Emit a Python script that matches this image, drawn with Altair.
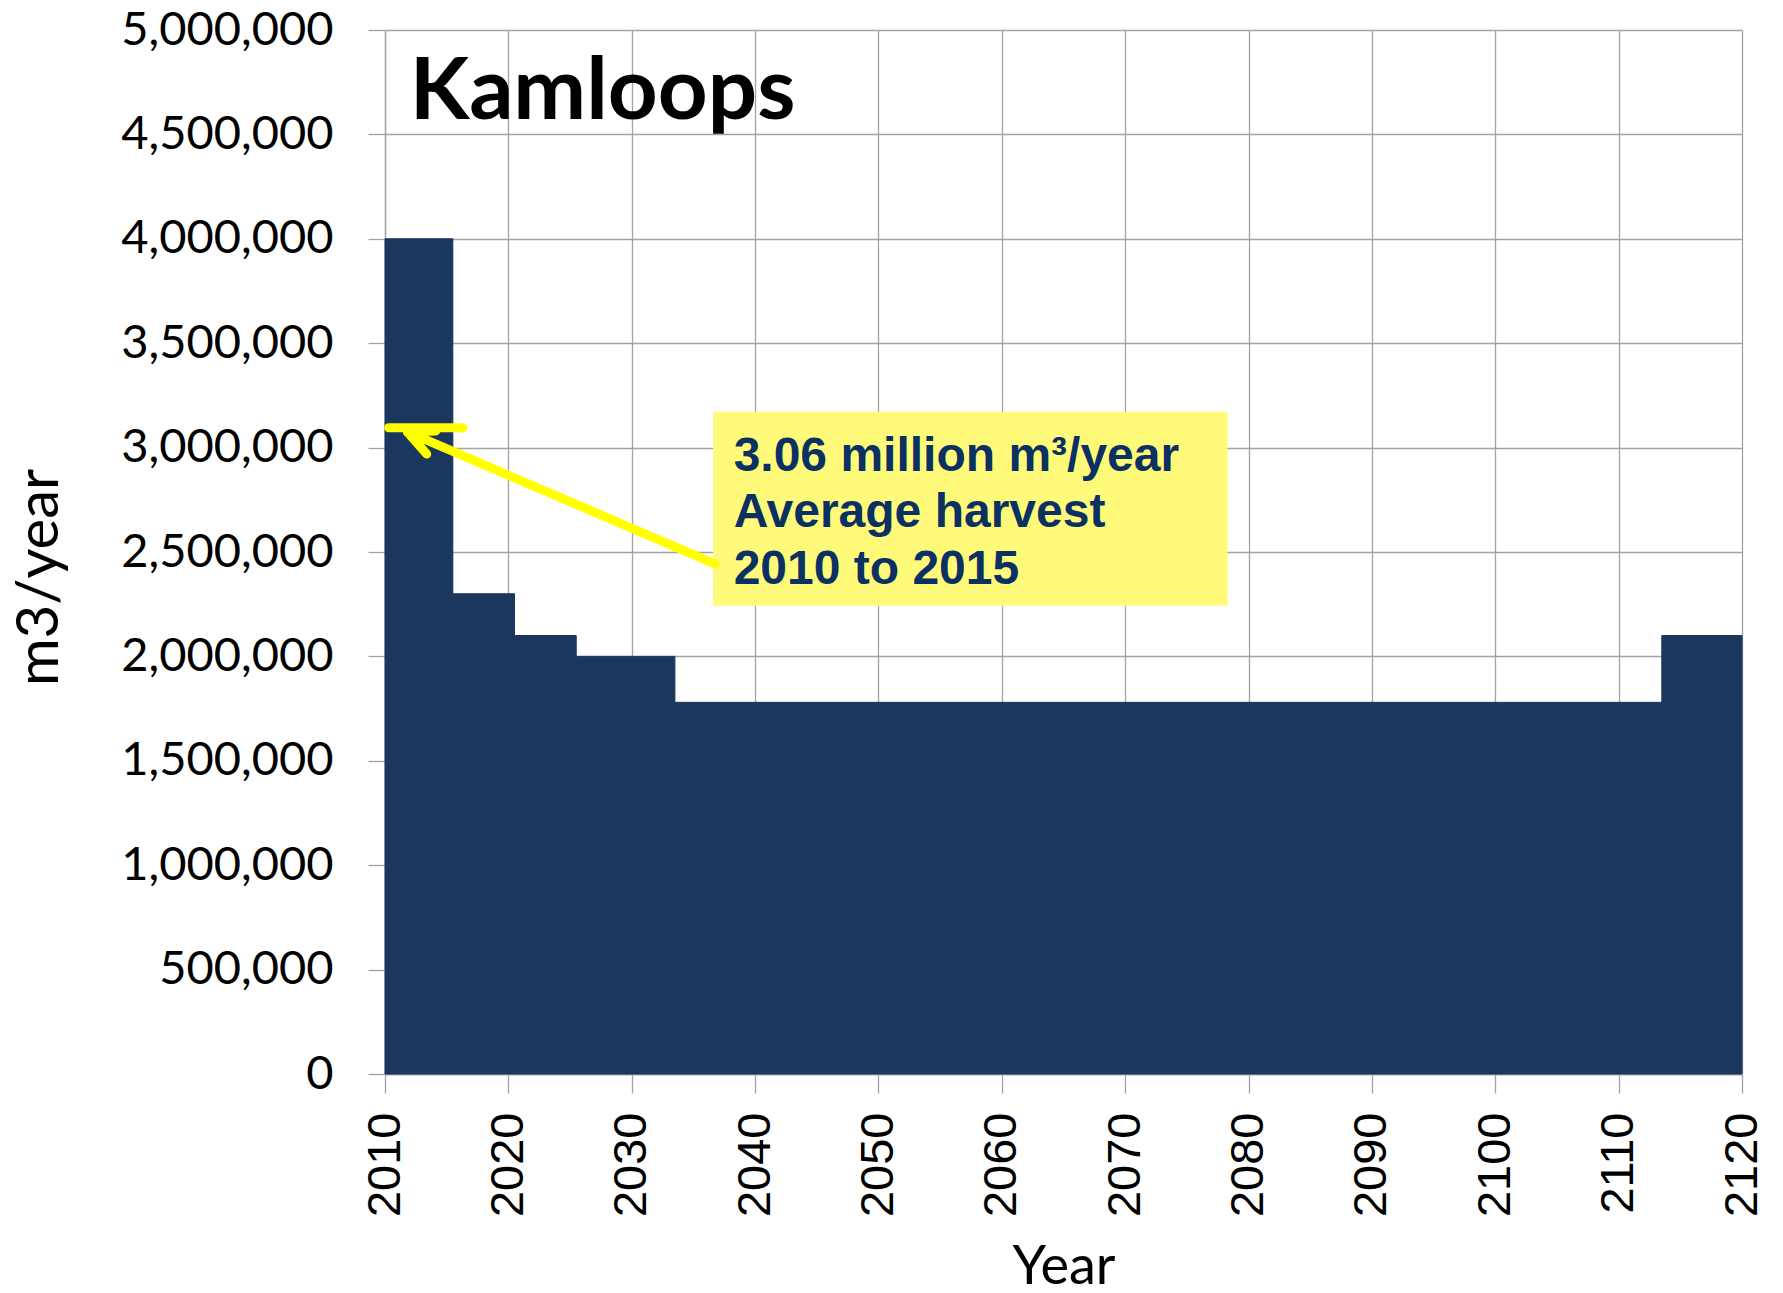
import altair as alt
import pandas as pd

# ---- data ----
step_start = [2010, 2015.5, 2020.5, 2025.5, 2033.5, 2113.5]
step_end = [2015.5, 2020.5, 2025.5, 2033.5, 2113.5, 2120]
harvest = [4000000, 2300000, 2100000, 2000000, 1780000, 2100000]

x_ticks = [2010, 2020, 2030, 2040, 2050, 2060, 2070, 2080, 2090, 2100, 2110, 2120]
y_ticks = [0, 500000, 1000000, 1500000, 2000000, 2500000, 3000000, 3500000,
           4000000, 4500000, 5000000]

chart_title = "Kamloops"
note_lines = ["3.06 million m\u00b3/year", "Average harvest", "2010 to 2015"]
note_line_y = [2890000, 2620000, 2349000]
note_text_x = [2038.26, 2038.26, 2038.26]

# annotation box (data coords)
box_x1 = [2036.6]
box_x2 = [2078.3]
box_y1 = [2243000]
box_y2 = [3172000]

# yellow marker line + arrow segments (data coords)
seg_x1 = [2010.3, 2036.74, 2011.82, 2011.82]
seg_x2 = [2016.3, 2011.82, 2013.38, 2014.12]
seg_y1 = [3095000, 2443000, 3075000, 3075000]
seg_y2 = [3095000, 3075000, 2969000, 3080000]

GRID = "#A3A3A3"
BAR = "#1B375E"
NOTE_TEXT = "#0A3162"
NOTE_FILL = "#FFFA7A"

bars_df = pd.DataFrame({"start": step_start, "end": step_end, "value": harvest})
box_df = pd.DataFrame({"x1": box_x1, "x2": box_x2, "y1": box_y1, "y2": box_y2})
seg_df = pd.DataFrame({"x1": seg_x1, "x2": seg_x2, "y1": seg_y1, "y2": seg_y2})
note_df = pd.DataFrame({"x": note_text_x, "y": note_line_y, "t": note_lines})
title_df = pd.DataFrame({"x": [2012.0], "y": [4574000], "t": [chart_title]})

xscale = alt.Scale(domain=[2010, 2120], nice=False, zero=False)
yscale = alt.Scale(domain=[0, 5000000], nice=False)

x_axis = alt.Axis(
    values=x_ticks, format="d", labelAngle=270, labelFont="Liberation Sans",
    labelFontSize=47, labelColor="black", labelPadding=19, labelFlush=False,
    labelOverlap=False, labelLimit=0, tickSize=19, tickColor=GRID, tickWidth=1.3,
    domainColor=GRID, domainWidth=1.3, gridColor=GRID, gridWidth=1.3,
    title="Year", titleFont="Lato", titleFontSize=54, titleFontWeight="normal",
    titleColor="black", titleY=209, titleBaseline="alphabetic",
)
y_axis = alt.Axis(
    values=y_ticks, format=",d", labelFont="Lato", labelFontSize=47,
    labelColor="black", labelPadding=35, labelOverlap=False, labelLimit=0,
    tickSize=17, tickColor=GRID, tickWidth=1.3,
    domainColor=GRID, domainWidth=1.3, gridColor=GRID, gridWidth=1.3,
    title="m3/year", titleFont="Lato", titleFontSize=58, titleFontWeight="normal",
    titleColor="black", titleX=-328, titleY=547, titleAngle=270,
    titleBaseline="alphabetic", titleAlign="center", titleLimit=0,
)

bars = alt.Chart(bars_df).mark_rect(color=BAR, stroke=BAR, strokeWidth=1).encode(
    x=alt.X("start:Q", scale=xscale, axis=x_axis),
    x2="end:Q",
    y=alt.Y("value:Q", scale=yscale, axis=y_axis),
    y2=alt.datum(0),
)

title_txt = alt.Chart(title_df).mark_text(
    align="left", baseline="alphabetic", font="Lato", fontWeight="bold",
    fontSize=87, color="black",
).encode(x=alt.X("x:Q", scale=xscale), y=alt.Y("y:Q", scale=yscale), text="t:N")

box = alt.Chart(box_df).mark_rect(color=NOTE_FILL).encode(
    x=alt.X("x1:Q", scale=xscale), x2="x2:Q",
    y=alt.Y("y1:Q", scale=yscale), y2="y2:Q",
)

note = alt.Chart(note_df).mark_text(
    align="left", baseline="alphabetic", font="Liberation Sans",
    fontWeight="bold", fontSize=48, color=NOTE_TEXT,
).encode(x=alt.X("x:Q", scale=xscale), y=alt.Y("y:Q", scale=yscale), text="t:N")

segs = alt.Chart(seg_df).mark_rule(color="#FFFF00", strokeWidth=9, strokeCap="round").encode(
    x=alt.X("x1:Q", scale=xscale), x2="x2:Q",
    y=alt.Y("y1:Q", scale=yscale), y2="y2:Q",
)

chart = alt.layer(bars, title_txt, box, note, segs).properties(
    width=1357, height=1044,
    autosize=alt.AutoSizeParams(type="none"),
    padding={"left": 377, "top": 22, "right": 30, "bottom": 230},
).configure_view(stroke=None).configure(background="white")

chart.save("out.html", embed_options={"renderer": "svg", "actions": False})
